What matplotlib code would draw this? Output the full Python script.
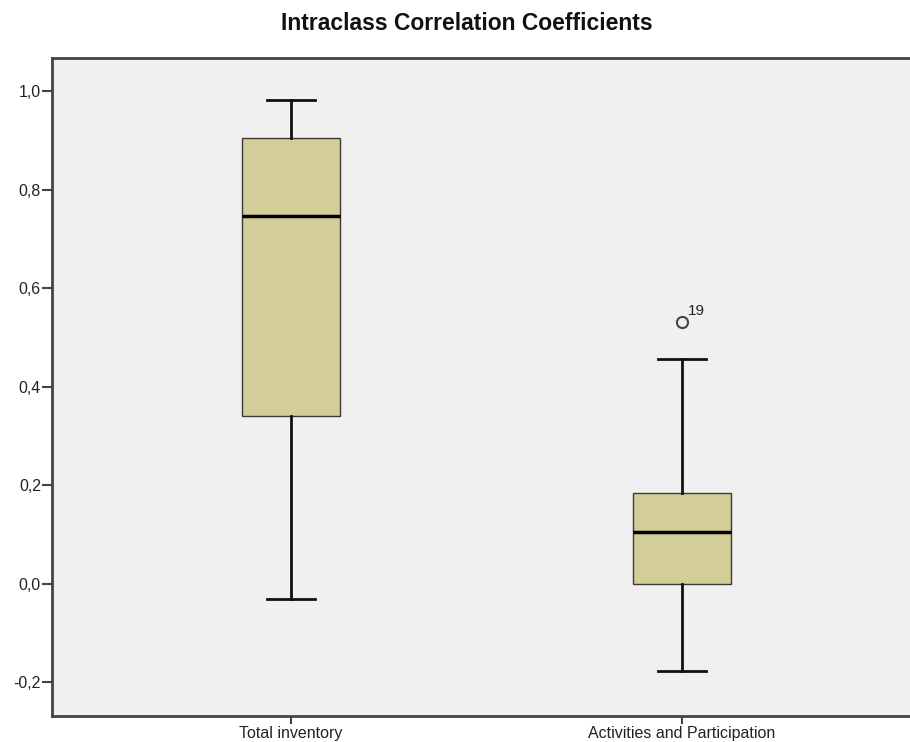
import matplotlib.pyplot as plt
from matplotlib.ticker import FuncFormatter

plt.rcParams['font.family'] = ['Liberation Sans', 'DejaVu Sans']

# ICC summary per domain
categories = ['Total inventory', 'Activities and Participation']
whisker_low = [-0.030, -0.176]
q1 = [0.341, 0.000]
median = [0.747, 0.105]
q3 = [0.905, 0.185]
whisker_high = [0.982, 0.456]
outliers = [[], [0.532]]
outlier_ids = [[], ['19']]

stats = []
for i, name in enumerate(categories):
    stats.append(dict(label=name, whislo=whisker_low[i], q1=q1[i], med=median[i],
                      q3=q3[i], whishi=whisker_high[i], fliers=outliers[i]))

fig = plt.figure(figsize=(9.1, 7.42), dpi=100)
ax = fig.add_axes([52 / 910, 1 - 716 / 742, (921 - 52) / 910, (716 - 58) / 742])
ax.set_facecolor('#f0f0f0')

positions = [1, 2]
ax.bxp(stats, positions=positions, widths=0.25, patch_artist=True,
       boxprops=dict(facecolor='#d3ce97', edgecolor='#3a3a3a', linewidth=1.0),
       medianprops=dict(color='black', linewidth=2.5),
       whiskerprops=dict(color='#111111', linewidth=2.0),
       capprops=dict(color='#111111', linewidth=2.0),
       capwidths=0.125,
       flierprops=dict(marker='o', markerfacecolor='none', markeredgecolor='#444444',
                       markersize=8, markeredgewidth=1.5))

for i, pos in enumerate(positions):
    for val, lab in zip(outliers[i], outlier_ids[i]):
        ax.annotate(lab, (pos, val), xytext=(4, 5), textcoords='offset points',
                    fontsize=11, color='#222222')

ax.set_xlim(1 - 239 / 391, 2 + 239 / 391)
ax.set_ylim(-0.268, 1.067)
ax.set_yticks([-0.2, 0.0, 0.2, 0.4, 0.6, 0.8, 1.0])
ax.yaxis.set_major_formatter(FuncFormatter(lambda v, p: f'{v:.1f}'.replace('.', ',')))
ax.set_xticks(positions)
ax.set_xticklabels(categories)

for side in ['left', 'bottom', 'top']:
    ax.spines[side].set_color('#444444')
    ax.spines[side].set_linewidth(2)
ax.spines['right'].set_visible(False)
ax.tick_params(axis='y', length=7, width=1.5, color='#444444', labelsize=11.5, pad=1,
               labelcolor='#222222')
ax.tick_params(axis='x', length=6, width=1.5, color='#444444', labelsize=11.5, pad=1,
               labelcolor='#222222')

fig.text(467 / 910, 1 - 23 / 742, 'Intraclass Correlation Coefficients',
         ha='center', va='center', fontsize=16.5, fontweight='bold', color='#111111')

fig.savefig('out.png', dpi=100)
